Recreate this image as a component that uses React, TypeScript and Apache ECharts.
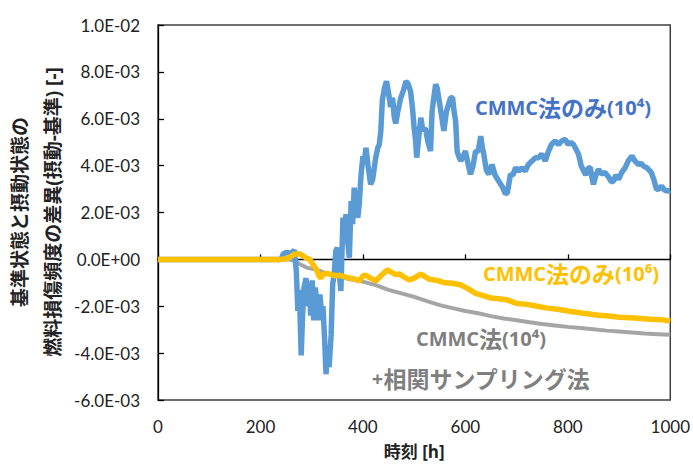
import React, { useEffect, useRef } from "react";
import * as echarts from "echarts";

// values in units of 1E-03
const blueT = [0, 240, 245, 252, 260, 266, 270, 273, 276, 279.5, 282, 285, 289, 292, 295, 298, 301, 304, 307, 310, 313, 316, 319, 322, 325, 328, 331, 334, 338, 341, 344, 347, 350, 354, 357, 361, 364, 367, 370, 373.5, 377, 380, 383, 386, 390, 393, 396, 400, 403, 406, 410, 415, 419, 425, 429, 432, 435, 438, 442, 446, 450, 454, 458, 461, 464, 468, 474, 479, 484, 488, 493, 497, 500, 503, 505, 509, 513, 517, 522, 527, 532, 535, 539, 542, 545, 549, 553, 558, 563, 567, 571, 575, 578, 581, 584, 587, 591, 596, 600, 605, 610, 615, 620, 625, 630, 633, 636, 641, 646, 652, 658, 665, 672, 678, 682, 688, 693, 698, 704, 710, 717, 723, 730, 737, 743, 749, 756, 762, 768, 775, 782, 788, 795, 801, 806, 811, 816, 821, 826, 831, 835, 840, 844, 847, 850, 855, 860, 866, 873, 880, 885, 889, 894, 899, 905, 912, 918, 925, 931, 938, 943, 948, 955, 963, 968, 973, 978, 983, 989, 996, 1000];
const blueV = [0, 0, 0.25, 0.3, 0.25, 0.4, -0.5, -2.2, -1.3, -4.1, -2.5, -1.2, -0.8, -2.0, -1.0, -2.4, -0.9, -2.6, -1.2, -1.8, -2.6, -1.5, -2.2, -2.0, -3.3, -4.9, -3.8, -4.6, -3.2, -1.05, -0.63, 0.36, 0.5, -0.6, -1.35, 1.78, 1.2, 1.93, 0.8, 0.07, 2.49, 1.5, 3.06, 2.2, 1.78, 2.4, 3.5, 4.4, 4.2, 4.76, 4.0, 3.2, 3.4, 4.34, 4.76, 4.9, 5.5, 6.8, 7.3, 7.6, 7.1, 6.5, 6.9, 6.1, 5.8, 6.3, 6.9, 7.2, 7.6, 7.5, 7.18, 6.4, 5.6, 5.05, 4.34, 5.2, 6.04, 5.5, 5.6, 5.0, 4.62, 6.3, 7.0, 7.47, 7.3, 6.75, 6.2, 5.48, 6.3, 6.6, 6.9, 6.9, 6.3, 5.9, 4.6, 4.4, 4.2, 4.4, 4.62, 4.1, 3.63, 4.0, 4.62, 4.6, 5.26, 4.8, 4.48, 3.8, 3.63, 4.05, 3.6, 3.34, 3.1, 2.8, 2.84, 3.63, 3.6, 3.91, 3.77, 3.9, 3.77, 4.05, 4.2, 4.34, 4.34, 4.5, 4.2, 4.6, 4.9, 5.05, 4.9, 5.05, 5.12, 4.9, 5.0, 4.9, 4.7, 4.48, 4.0, 3.77, 3.6, 3.9, 3.91, 3.5, 3.2, 3.6, 3.84, 3.65, 3.7, 3.5, 3.3, 3.34, 3.6, 3.42, 3.7, 3.91, 4.2, 4.41, 4.2, 4.05, 4.1, 3.98, 3.9, 3.7, 3.4, 2.99, 3.0, 3.13, 2.95, 2.92, 2.95];

const orangeT = [0, 240, 250, 258, 266, 276, 283, 290, 296, 302, 309, 314, 318, 323, 330, 340, 347, 355, 365, 375, 385, 393, 400, 406, 415, 425, 435, 448, 456, 464, 471, 480, 490, 500, 513, 522, 530, 545, 560, 575, 590, 605, 620, 635, 650, 665, 680, 700, 720, 740, 760, 780, 800, 830, 860, 880, 900, 930, 960, 985, 1000];
const orangeV = [0, 0, 0.03, 0.1, 0.22, 0.24, 0.15, 0.05, 0, -0.2, -0.42, -0.7, -0.8, -0.62, -0.6, -0.66, -0.7, -0.68, -0.75, -0.8, -0.85, -0.92, -0.7, -0.68, -0.8, -0.92, -0.7, -0.45, -0.55, -0.65, -0.62, -0.75, -0.88, -0.8, -0.63, -0.75, -0.85, -0.9, -1.0, -1.02, -1.08, -1.25, -1.45, -1.55, -1.65, -1.68, -1.72, -1.88, -1.92, -2.0, -2.08, -2.13, -2.2, -2.3, -2.38, -2.42, -2.47, -2.5, -2.55, -2.58, -2.63];

const grayT = [0, 255, 265, 276, 290, 310, 330, 350, 375, 400, 425, 450, 475, 500, 525, 550, 575, 600, 625, 650, 675, 700, 725, 750, 775, 800, 825, 850, 875, 900, 925, 950, 975, 1000];
const grayV = [0, 0, -0.05, -0.2, -0.35, -0.45, -0.6, -0.72, -0.85, -0.95, -1.1, -1.3, -1.45, -1.6, -1.78, -1.95, -2.08, -2.2, -2.3, -2.42, -2.52, -2.6, -2.68, -2.76, -2.82, -2.88, -2.93, -2.98, -3.04, -3.08, -3.12, -3.16, -3.19, -3.22];

const UNIT = 1e-3;
const xTicks = { min: 0, max: 1000, interval: 200 };
const yTicks = { min: -0.006, max: 0.01, interval: 0.002 };

const yTitle = ["基準状態と摂動状態の", "燃料損傷頻度の差異(摂動-基準) [-]"];
const xTitle = "時刻 [h]";
// annotation texts split into latin / kanji-kana runs
const labelBlue = ["CMMC", "法のみ", "(10⁴)"];
const labelOrange = ["CMMC", "法のみ", "(10⁶)"];
const labelGray1 = ["CMMC", "法", "(10⁴)"];
const labelGray2 = ["+", "相関サンプリング法"];

const FONT = "Lato, 'Noto Sans CJK JP', sans-serif";
const LATIN_BOLD = "'Open Sans', 'Noto Sans', sans-serif";
const CJK = "'Noto Sans CJK JP', sans-serif";

function pairs(t: number[], v: number[]) {
  return t.map((x, i) => [x, v[i] * UNIT]);
}

function sci(v: number) {
  const [m, ex] = v.toExponential(1).split("e");
  const n = parseInt(ex, 10);
  return m + "E" + (n < 0 ? "-" : "+") + String(Math.abs(n)).padStart(2, "0");
}

function richText(parts: string[]) {
  return parts.map((p) => (/^[\x00-\x7F⁰-⁹]+$/.test(p) ? `{l|${p}}` : `{c|${p}}`)).join("");
}

export default function App() {
  const ref = useRef<HTMLDivElement>(null);
  useEffect(() => {
    if (!ref.current) return;
    const chart = echarts.init(ref.current, null, { renderer: "svg" });
    const annot = (parts: string[], cx: number, y: number, fill: string) => ({
      type: "text",
      x: cx,
      y,
      style: {
        text: richText(parts),
        fill,
        fontSize: 20,
        fontWeight: "bold",
        fontFamily: LATIN_BOLD,
        align: "center",
        verticalAlign: "middle",
        rich: {
          l: { fontSize: 20, fontWeight: "bold", fontFamily: LATIN_BOLD, fill, lineHeight: 26 },
          c: { fontSize: 23, fontWeight: "bold", fontFamily: CJK, fill, lineHeight: 26 },
        },
      },
    });
    chart.setOption({
      animation: false,
      backgroundColor: "#fff",
      grid: {
        left: 158,
        right: 21,
        top: 25,
        bottom: 69,
        show: true,
        borderColor: "#404040",
        borderWidth: 1.5,
      },
      xAxis: [
        {
          type: "value",
          ...xTicks,
          position: "bottom",
          axisLine: { show: false, onZero: false },
          axisTick: { show: false },
          splitLine: { show: false },
          axisLabel: { fontSize: 17, color: "#222", margin: 18, fontFamily: FONT, formatter: (v: number) => String(v) },
          name: xTitle,
          nameLocation: "middle",
          nameGap: 43,
          nameTextStyle: { fontSize: 17, fontWeight: "bold", color: "#222", fontFamily: "'Open Sans', 'Noto Sans CJK JP', sans-serif" },
        },
        {
          type: "value",
          ...xTicks,
          position: "bottom",
          axisLine: { show: true, onZero: true, onZeroAxisIndex: 0, lineStyle: { color: "#000", width: 1.3 } },
          axisTick: { show: true, inside: true, length: 5, lineStyle: { color: "#000", width: 1.3 } },
          axisLabel: { show: false },
          splitLine: { show: false },
        },
      ],
      yAxis: {
        type: "value",
        ...yTicks,
        axisLine: { show: true, lineStyle: { color: "#000", width: 1.3 } },
        axisTick: { show: true, inside: true, length: 6, lineStyle: { color: "#000", width: 1.3 } },
        splitLine: { show: false },
        axisLabel: { fontSize: 17, color: "#222", margin: 18, fontFamily: FONT, formatter: (v: number) => sci(v) },
      },
      series: [
        {
          type: "line",
          xAxisIndex: 0,
          data: pairs(grayT, grayV),
          showSymbol: false,
          lineStyle: { color: "#A5A5A5", width: 4 },
          z: 2,
        },
        {
          type: "line",
          xAxisIndex: 0,
          data: pairs(blueT, blueV),
          showSymbol: false,
          lineStyle: { color: "#5B9BD5", width: 5.5 },
          z: 3,
        },
        {
          type: "line",
          xAxisIndex: 0,
          data: pairs(orangeT, orangeV),
          showSymbol: false,
          lineStyle: { color: "#FFC000", width: 5.5 },
          z: 4,
        },
      ],
      graphic: [
        {
          type: "text",
          x: 36.5,
          y: 212,
          rotation: Math.PI / 2,
          style: {
            text: yTitle.join("\n"),
            fontSize: 19,
            fontWeight: "bold",
            fontFamily: "'Open Sans', 'Noto Sans CJK JP', sans-serif",
            fill: "#222",
            lineHeight: 33,
            align: "center",
            verticalAlign: "middle",
          },
        },
        annot(labelBlue, 563, 107, "#4472C4"),
        annot(labelOrange, 571, 273, "#FFC000"),
        annot(labelGray1, 481, 338, "#7F7F7F"),
        annot(labelGray2, 481, 378, "#7F7F7F"),
      ],
    });
    return () => chart.dispose();
  }, []);
  return <div ref={ref} style={{ width: 693, height: 469, position: "absolute", left: 0, top: 0 }} />;
}
